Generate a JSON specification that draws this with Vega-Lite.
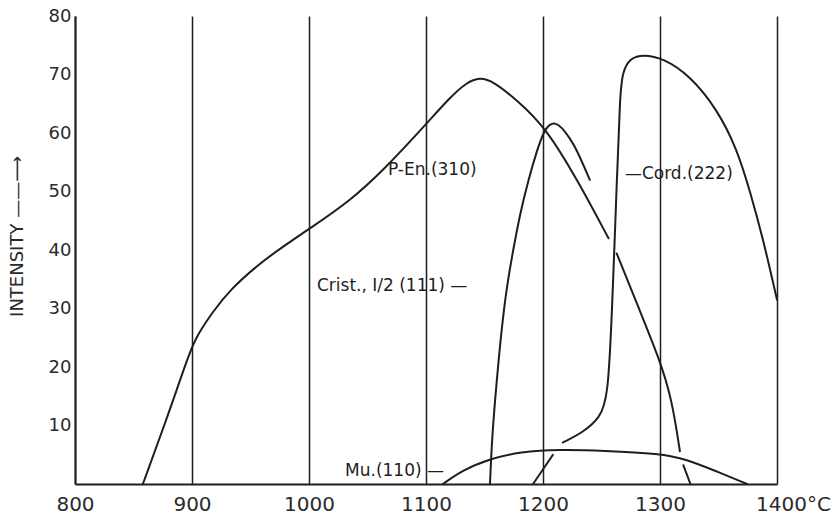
{
  "$schema": "https://vega.github.io/schema/vega-lite/v6.json",
  "width": 702,
  "height": 468,
  "autosize": {"type": "none"},
  "padding": {"left": 75, "top": 16, "right": 59, "bottom": 33},
  "background": "#ffffff",
  "config": {
    "view": {"stroke": null},
    "font": "DejaVu Sans"
  },
  "datasets": {
    "curves": [
      {"series": "P-En", "seg": "pen-a", "t": 858, "i": 0},
      {"series": "P-En", "seg": "pen-a", "t": 880, "i": 12},
      {"series": "P-En", "seg": "pen-a", "t": 898, "i": 22.6},
      {"series": "P-En", "seg": "pen-a", "t": 905, "i": 25.6},
      {"series": "P-En", "seg": "pen-a", "t": 918, "i": 29.5},
      {"series": "P-En", "seg": "pen-a", "t": 933, "i": 33.3},
      {"series": "P-En", "seg": "pen-a", "t": 956, "i": 37.4},
      {"series": "P-En", "seg": "pen-a", "t": 975, "i": 40.2},
      {"series": "P-En", "seg": "pen-a", "t": 1001, "i": 43.7},
      {"series": "P-En", "seg": "pen-a", "t": 1035, "i": 48.4},
      {"series": "P-En", "seg": "pen-a", "t": 1063, "i": 53.5},
      {"series": "P-En", "seg": "pen-a", "t": 1101, "i": 61.7},
      {"series": "P-En", "seg": "pen-a", "t": 1120, "i": 66},
      {"series": "P-En", "seg": "pen-a", "t": 1135, "i": 68.7},
      {"series": "P-En", "seg": "pen-a", "t": 1146, "i": 69.5},
      {"series": "P-En", "seg": "pen-a", "t": 1157, "i": 68.9},
      {"series": "P-En", "seg": "pen-a", "t": 1178, "i": 65.6},
      {"series": "P-En", "seg": "pen-a", "t": 1203, "i": 60.8},
      {"series": "P-En", "seg": "pen-a", "t": 1231, "i": 51.4},
      {"series": "P-En", "seg": "pen-a", "t": 1256, "i": 42},
      {"series": "P-En", "seg": "pen-b", "t": 1263, "i": 39.4},
      {"series": "P-En", "seg": "pen-b", "t": 1283, "i": 29.5},
      {"series": "P-En", "seg": "pen-b", "t": 1299, "i": 21.6},
      {"series": "P-En", "seg": "pen-b", "t": 1310, "i": 14.7},
      {"series": "P-En", "seg": "pen-b", "t": 1317, "i": 5.6},
      {"series": "P-En", "seg": "pen-c", "t": 1320, "i": 3.2},
      {"series": "P-En", "seg": "pen-c", "t": 1326, "i": 0},
      {"series": "Crist", "seg": "cr", "t": 1154.7, "i": 0},
      {"series": "Crist", "seg": "cr", "t": 1156.4, "i": 8},
      {"series": "Crist", "seg": "cr", "t": 1160.5, "i": 17.8},
      {"series": "Crist", "seg": "cr", "t": 1164.5, "i": 26.3},
      {"series": "Crist", "seg": "cr", "t": 1169, "i": 33.7},
      {"series": "Crist", "seg": "cr", "t": 1174.5, "i": 40},
      {"series": "Crist", "seg": "cr", "t": 1180.5, "i": 46.3},
      {"series": "Crist", "seg": "cr", "t": 1187.5, "i": 52},
      {"series": "Crist", "seg": "cr", "t": 1195, "i": 57.1},
      {"series": "Crist", "seg": "cr", "t": 1200.5, "i": 60.2},
      {"series": "Crist", "seg": "cr", "t": 1206, "i": 61.6},
      {"series": "Crist", "seg": "cr", "t": 1211, "i": 61.7},
      {"series": "Crist", "seg": "cr", "t": 1216, "i": 61},
      {"series": "Crist", "seg": "cr", "t": 1223, "i": 59.1},
      {"series": "Crist", "seg": "cr", "t": 1229, "i": 57.1},
      {"series": "Crist", "seg": "cr", "t": 1240, "i": 52},
      {"series": "Cord", "seg": "co-a", "t": 1191.5, "i": 0},
      {"series": "Cord", "seg": "co-a", "t": 1208.5, "i": 5},
      {"series": "Cord", "seg": "co-b", "t": 1217, "i": 7.1},
      {"series": "Cord", "seg": "co-b", "t": 1234, "i": 8.8},
      {"series": "Cord", "seg": "co-b", "t": 1248.7, "i": 11.3},
      {"series": "Cord", "seg": "co-b", "t": 1255.6, "i": 14.8},
      {"series": "Cord", "seg": "co-b", "t": 1259, "i": 29.5},
      {"series": "Cord", "seg": "co-b", "t": 1263.2, "i": 52.2},
      {"series": "Cord", "seg": "co-b", "t": 1265.8, "i": 66.4},
      {"series": "Cord", "seg": "co-b", "t": 1268, "i": 70.5},
      {"series": "Cord", "seg": "co-b", "t": 1274.4, "i": 72.8},
      {"series": "Cord", "seg": "co-b", "t": 1285.5, "i": 73.4},
      {"series": "Cord", "seg": "co-b", "t": 1302.6, "i": 72.8},
      {"series": "Cord", "seg": "co-b", "t": 1325.6, "i": 69.8},
      {"series": "Cord", "seg": "co-b", "t": 1348.7, "i": 64.1},
      {"series": "Cord", "seg": "co-b", "t": 1365.8, "i": 57.3},
      {"series": "Cord", "seg": "co-b", "t": 1377, "i": 50},
      {"series": "Cord", "seg": "co-b", "t": 1388, "i": 42},
      {"series": "Cord", "seg": "co-b", "t": 1400, "i": 31.5},
      {"series": "Mu", "seg": "mu", "t": 1114.5, "i": 0},
      {"series": "Mu", "seg": "mu", "t": 1131.6, "i": 2.4},
      {"series": "Mu", "seg": "mu", "t": 1154.7, "i": 4.3},
      {"series": "Mu", "seg": "mu", "t": 1180.3, "i": 5.5},
      {"series": "Mu", "seg": "mu", "t": 1214.5, "i": 5.9},
      {"series": "Mu", "seg": "mu", "t": 1251.3, "i": 5.7},
      {"series": "Mu", "seg": "mu", "t": 1300, "i": 5.2},
      {"series": "Mu", "seg": "mu", "t": 1323, "i": 4.2},
      {"series": "Mu", "seg": "mu", "t": 1345.3, "i": 2.4},
      {"series": "Mu", "seg": "mu", "t": 1374.4, "i": 0}
    ],
    "labels": [
      {"t": 1067.5, "i": 53.7, "text": "P-En.(310)"},
      {"t": 1006.8, "i": 33.8, "text": "Crist., I/2 (111) —"},
      {"t": 1270, "i": 53, "text": "—Cord.(222)"},
      {"t": 1030.8, "i": 2.3, "text": "Mu.(110) —"}
    ]
  },
  "layer": [
    {
      "data": {"name": "curves"},
      "mark": {"type": "line", "interpolate": "basis", "color": "#1e1e1e", "strokeWidth": 2, "strokeCap": "round"},
      "encoding": {
        "x": {
          "field": "t", "type": "quantitative",
          "scale": {"domain": [800, 1400], "nice": false, "zero": false},
          "axis": {
            "title": null,
            "format": "d",
            "values": [800, 900, 1000, 1100, 1200, 1300, 1400],
            "grid": true, "gridColor": "#1e1e1e", "gridWidth": 1.5, "gridOpacity": 1,
            "ticks": false,
            "domainColor": "#1e1e1e", "domainWidth": 2,
            "labelFontSize": 20, "labelColor": "#2a2a2a", "labelPadding": 10,
            "labelFont": "DejaVu Sans",
            "labelExpr": "datum.value == 1400 ? '1400°C' : datum.label",
            "labelOffset": {"condition": {"test": "datum.value == 1400", "value": 16}, "value": 0},
            "labelFlush": false,
            "labelOverlap": false
          }
        },
        "y": {
          "field": "i", "type": "quantitative",
          "scale": {"domain": [0, 80], "nice": false},
          "axis": {
            "title": "INTENSITY ——⟶",
            "values": [10, 20, 30, 40, 50, 60, 70, 80],
            "grid": false, "ticks": false,
            "domainColor": "#1e1e1e", "domainWidth": 2,
            "labelFontSize": 18, "labelColor": "#2a2a2a", "labelPadding": 4,
            "labelFont": "DejaVu Sans",
            "labelFlush": false,
            "titleFont": "DejaVu Sans", "titleFontSize": 18, "titleFontWeight": "normal",
            "titleColor": "#2a2a2a",
            "titleX": -58, "titleY": 220, "titleAlign": "center", "titleBaseline": "middle", "titleAngle": -90
          }
        },
        "detail": {"field": "seg", "type": "nominal"}
      }
    },
    {
      "data": {"name": "labels"},
      "mark": {"type": "text", "align": "left", "baseline": "middle", "fontSize": 17, "font": "DejaVu Sans", "color": "#1e1e1e"},
      "encoding": {
        "x": {"field": "t", "type": "quantitative"},
        "y": {"field": "i", "type": "quantitative"},
        "text": {"field": "text", "type": "nominal"}
      }
    }
  ]
}
